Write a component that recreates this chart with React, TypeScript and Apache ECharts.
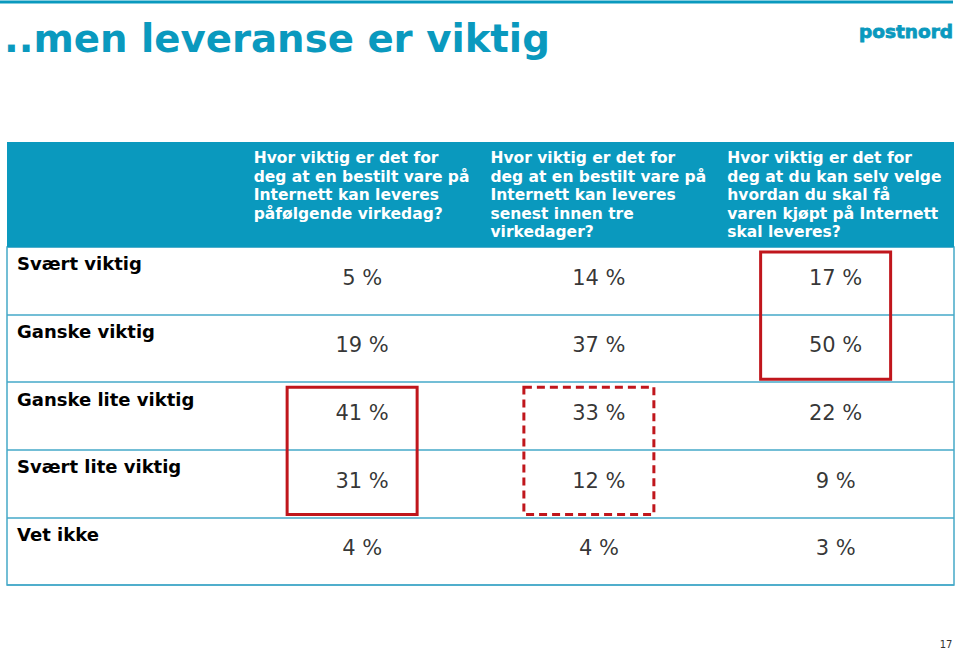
import React, { useEffect, useRef } from 'react';
import * as echarts from 'echarts';

const title = '..men leveranse er viktig';
const logoText = 'postnord';
const pageNumber = '17';
const rowLabels = ['Svært viktig', 'Ganske viktig', 'Ganske lite viktig', 'Svært lite viktig', 'Vet ikke'];
const columnKeys = ['label', 'q1', 'q2', 'q3'];
const questions = [
  'Hvor viktig er det for\ndeg at en bestilt vare på\nInternett kan leveres\npåfølgende virkedag?',
  'Hvor viktig er det for\ndeg at en bestilt vare på\nInternett kan leveres\nsenest innen tre\nvirkedager?',
  'Hvor viktig er det for\ndeg at du kan selv velge\nhvordan du skal få\nvaren kjøpt på Internett\nskal leveres?',
];
const nextDayValues = [5, 19, 41, 31, 4];
const threeDayValues = [14, 37, 33, 12, 4];
const chooseDeliveryValues = [17, 50, 22, 9, 3];
const highlights = [
  { column: 0, fromRow: 2, toRow: 3, dashed: false },
  { column: 1, fromRow: 2, toRow: 3, dashed: true },
  { column: 2, fromRow: 0, toRow: 1, dashed: false },
];

const TEAL = '#0A99BE';
const LINE = '#45A9C8';
const RED = '#C0161C';
const FONT = '"DejaVu Sans", Verdana, sans-serif';

const GRID = { left: 7, top: 247, width: 947, height: 338 };
const HEADER_TOP = 142;

export default function App() {
  const ref = useRef<HTMLDivElement>(null);

  useEffect(() => {
    if (!ref.current) return;
    const chart = echarts.init(ref.current, null, { renderer: 'svg' });
    const valueColumns = [nextDayValues, threeDayValues, chooseDeliveryValues];
    const series = valueColumns.map((vals, c) => ({
      type: 'scatter',
      name: questions[c],
      symbolSize: 0,
      silent: true,
      data: vals.map((v, r) => [c + 1, r, v]),
      label: {
        show: true,
        position: 'inside',
        offset: [0, -3],
        formatter: (p: any) => `${p.value[2]} %`,
        fontFamily: FONT,
        fontSize: 21,
        color: '#000',
      },
    }));

    chart.setOption({
      animation: false,
      backgroundColor: '#fff',
      grid: {
        left: GRID.left,
        top: GRID.top,
        width: GRID.width,
        height: GRID.height,
        show: true,
        borderColor: LINE,
        borderWidth: 1.5,
        backgroundColor: '#fff',
      },
      xAxis: {
        type: 'category',
        data: columnKeys,
        axisLine: { show: false },
        axisTick: { show: false },
        axisLabel: { show: false },
        splitLine: { show: false },
      },
      yAxis: {
        type: 'category',
        data: rowLabels,
        inverse: true,
        axisLine: { show: false },
        axisTick: { show: false },
        splitLine: { show: true, lineStyle: { color: LINE, width: 1.5 } },
        axisLabel: {
          inside: true,
          margin: 10,
          fontFamily: FONT,
          fontWeight: 'bold',
          fontSize: 18,
          lineHeight: 18,
          color: '#000',
          verticalAlign: 'bottom',
          padding: [0, 0, 8, 0],
        },
      },
      series,
    });

    const px = (c: number, r: number) => chart.convertToPixel({ gridIndex: 0 }, [c, r]) as number[];
    const band = px(0, 1)[1] - px(0, 0)[1];
    const colW = px(2, 0)[0] - px(1, 0)[0];

    const headerTexts = questions.map((q, i) => ({
      type: 'text',
      z: 10,
      style: {
        text: q,
        x: px(i + 1, 0)[0] - colW / 2 + 10,
        y: HEADER_TOP + 7,
        fill: '#fff',
        fontFamily: FONT,
        fontWeight: 'bold',
        fontSize: 15.5,
        lineHeight: 18.5,
        align: 'left',
        verticalAlign: 'top',
      },
    }));

    const boxes = highlights.map((h) => {
      const a = px(h.column + 1, h.fromRow);
      const b = px(h.column + 1, h.toRow);
      const y0 = a[1] - band / 2 + 5;
      const y1 = b[1] + band / 2 - 3;
      return {
        type: 'rect',
        z: 20,
        shape: { x: a[0] - 75, y: y0, width: 130, height: y1 - y0 },
        style: { fill: 'none', stroke: RED, lineWidth: 3, lineDash: h.dashed ? [8, 5] : null },
      };
    });

    chart.setOption({
      graphic: [
        { type: 'line', z: 10, shape: { x1: 0, y1: 2, x2: 953, y2: 2 }, style: { stroke: TEAL, lineWidth: 3 } },
        {
          type: 'text', z: 10,
          style: { text: title, x: 4, y: 38.5, fill: TEAL, fontFamily: FONT, fontWeight: 'bold', fontSize: 38.7, verticalAlign: 'middle' },
        },
        {
          type: 'text', z: 10,
          style: { text: logoText, x: 953, y: 31, fill: TEAL, fontFamily: FONT, fontWeight: 'bold', fontSize: 18.5, align: 'right', verticalAlign: 'middle', stroke: TEAL, lineWidth: 0.8 },
        },
        {
          type: 'rect', z: 5,
          shape: { x: GRID.left, y: HEADER_TOP, width: GRID.width, height: GRID.top - HEADER_TOP },
          style: { fill: TEAL },
        },
        ...headerTexts,
        ...boxes,
        {
          type: 'text', z: 10,
          style: { text: pageNumber, x: 946, y: 644, fill: '#333', fontFamily: FONT, fontSize: 10, align: 'center', verticalAlign: 'middle' },
        },
      ],
    });

    return () => chart.dispose();
  }, []);

  return <div ref={ref} style={{ position: 'absolute', left: 0, top: 0, width: 960, height: 649 }} />;
}
